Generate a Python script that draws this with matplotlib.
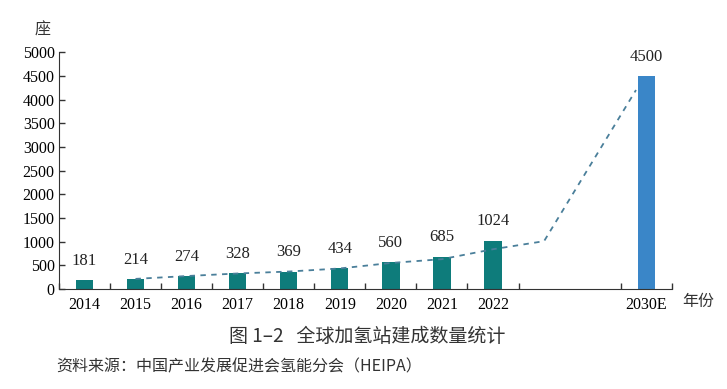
import matplotlib.pyplot as plt

years = ['2014', '2015', '2016', '2017', '2018', '2019', '2020', '2021', '2022', '2030E']
stations = [181, 214, 274, 328, 369, 434, 560, 685, 1024, 4500]
bar_pos = [0, 1, 2, 3, 4, 5, 6, 7, 8, 11]

# dashed trend line
trend_pos = [1, 2, 3, 4, 5, 6, 7, 8, 9, 10.8]
trend_val = [214, 274, 328, 369, 434, 550, 630, 840, 1010, 4200]

teal = '#0E7C7B'
blue = '#3A86C8'
serif = ['Liberation Serif', 'DejaVu Serif']
cjk = ['Noto Sans CJK SC', 'DejaVu Sans']

fig = plt.figure(figsize=(7.27, 3.89), dpi=100)
ax = fig.add_axes([0.081, 0.257, 0.843, 0.609])

colors = [teal] * 9 + [blue]
ax.bar(bar_pos, stations, width=0.34, color=colors)
ax.plot(trend_pos, trend_val, linestyle=(0, (3, 3)), color='#4A7F9A', linewidth=1.3)

for x, v in zip(bar_pos, stations):
    ax.annotate(str(v), (x, v), xytext=(0, 8), textcoords='offset points',
                ha='center', va='bottom', fontsize=12, family=serif, color='#222222')

ax.set_xlim(-0.5, 11.5)
ax.set_ylim(0, 5000)
ax.set_yticks(range(0, 5001, 500))
ax.set_yticklabels([str(v) for v in range(0, 5001, 500)], family=serif, fontsize=11.5)

# tick marks between categories, labels under the bars
ax.set_xticks([-0.5, 0.5, 1.5, 2.5, 3.5, 4.5, 5.5, 6.5, 7.5, 8.5, 10.5, 11.5])
ax.set_xticklabels([])
ax.set_xticks(bar_pos, minor=True)
ax.set_xticklabels(years, minor=True, family=serif, fontsize=11.5)
ax.tick_params(axis='x', which='minor', length=0, pad=6)
ax.tick_params(axis='both', which='major', direction='in', length=4, width=1, color='#333333')
ax.tick_params(axis='y', pad=3)

for s in ['top', 'right']:
    ax.spines[s].set_visible(False)
for s in ['left', 'bottom']:
    ax.spines[s].set_color('#333333')

fig.text(0.059, 0.923, '座', family=cjk, fontsize=11.5, ha='center', va='center', color='#333333')
fig.text(0.961, 0.224, '年份', family=cjk, fontsize=11.5, ha='center', va='center', color='#333333')
fig.text(0.505, 0.134, '图 1–2   全球加氢站建成数量统计', family=cjk, fontsize=13.7,
         ha='center', va='center', color='#333333')
fig.text(0.078, 0.057, '资料来源：中国产业发展促进会氢能分会（HEIPA）', family=cjk, fontsize=11.5,
         ha='left', va='center', color='#333333')

fig.savefig('out.png', dpi=100)
